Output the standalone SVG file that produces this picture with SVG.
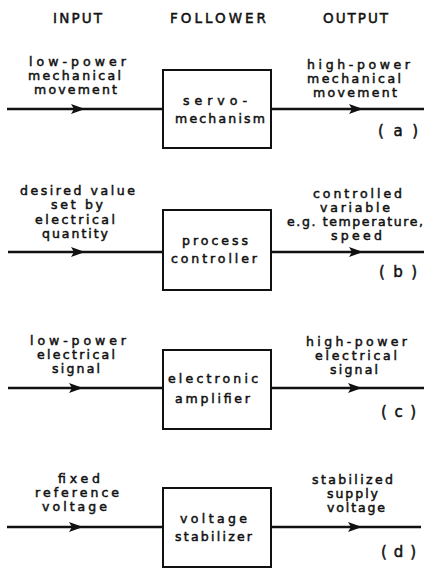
<svg xmlns="http://www.w3.org/2000/svg" width="424" height="569" viewBox="0 0 424 569">
<style>
text{font-family:"DejaVu Sans","Liberation Sans",sans-serif;font-size:12.5px;fill:#111;stroke:#111;stroke-width:0.5}
.hd{font-size:13.5px}
.tag{font-size:15px}
.box{fill:#fff;stroke:#111;stroke-width:2}
.con{fill:none;stroke:#111;stroke-width:2.4;marker-mid:url(#arr)}
</style>
<defs>
<marker id="arr" markerUnits="userSpaceOnUse" markerWidth="15" markerHeight="12" viewBox="0 0 15 12" refX="14" refY="6" orient="auto">
<path d="M0,1 L14,6 L0,11 L3,6 z" fill="#111"/>
</marker>
</defs>
<rect width="424" height="569" fill="#fff"/>

<g id="headers">
<text class="hd" x="53" y="23" textLength="49" lengthAdjust="spacing">INPUT</text>
<text class="hd" x="170" y="23" textLength="96" lengthAdjust="spacing">FOLLOWER</text>
<text class="hd" x="323" y="23" textLength="65" lengthAdjust="spacing">OUTPUT</text>
</g>

<g id="connectors">
<path class="con" d="M7,109 H85 H163"/>
<path class="con" d="M271,109 H363 H424"/>
<path class="con" d="M8,252 H85 H163"/>
<path class="con" d="M271,252 H363 H424"/>
<path class="con" d="M8,388 H83 H163"/>
<path class="con" d="M271,388 H362 H424"/>
<path class="con" d="M7,527 H83 H163"/>
<path class="con" d="M271,527 H362 H421"/>
</g>

<g id="in-a">
<text x="29" y="66" textLength="97" lengthAdjust="spacing">low-power</text>
<text x="28" y="80" textLength="93" lengthAdjust="spacing">mechanical</text>
<text x="34" y="94" textLength="83" lengthAdjust="spacing">movement</text>
</g>
<g id="node-a">
<rect class="box" x="163" y="70" width="108" height="78"/>
<text x="183" y="105" textLength="64" lengthAdjust="spacing">servo-</text>
<text x="175" y="123" textLength="90" lengthAdjust="spacing">mechanism</text>
</g>
<g id="out-a">
<text x="307" y="69" textLength="103" lengthAdjust="spacing">high-power</text>
<text x="307" y="83" textLength="94" lengthAdjust="spacing">mechanical</text>
<text x="313" y="97" textLength="84" lengthAdjust="spacing">movement</text>
<text class="tag" x="378" y="136" textLength="40" lengthAdjust="spacing">(a)</text>
</g>

<g id="in-b">
<text x="20" y="195" textLength="115" lengthAdjust="spacing">desired value</text>
<text x="51" y="209" textLength="52" lengthAdjust="spacing">set by</text>
<text x="35" y="224" textLength="80" lengthAdjust="spacing">electrical</text>
<text x="42" y="238" textLength="66" lengthAdjust="spacing">quantity</text>
</g>
<g id="node-b">
<rect class="box" x="163" y="210" width="108" height="80"/>
<text x="182" y="245" textLength="66" lengthAdjust="spacing">process</text>
<text x="171" y="263" textLength="86" lengthAdjust="spacing">controller</text>
</g>
<g id="out-b">
<text x="313" y="198" textLength="89" lengthAdjust="spacing">controlled</text>
<text x="320" y="212" textLength="70" lengthAdjust="spacing">variable</text>
<text x="287" y="226" textLength="136" lengthAdjust="spacing">e.g. temperature,</text>
<text x="331" y="240" textLength="51" lengthAdjust="spacing">speed</text>
<text class="tag" x="379" y="277" textLength="38" lengthAdjust="spacing">(b)</text>
</g>

<g id="in-c">
<text x="30" y="345" textLength="96" lengthAdjust="spacing">low-power</text>
<text x="37" y="359" textLength="78" lengthAdjust="spacing">electrical</text>
<text x="52" y="373" textLength="48" lengthAdjust="spacing">signal</text>
</g>
<g id="node-c">
<rect class="box" x="163" y="350" width="108" height="79"/>
<text x="168" y="383" textLength="90" lengthAdjust="spacing">electronic</text>
<text x="175" y="403" textLength="75" lengthAdjust="spacing">amplifier</text>
</g>
<g id="out-c">
<text x="306" y="346" textLength="101" lengthAdjust="spacing">high-power</text>
<text x="315" y="360" textLength="82" lengthAdjust="spacing">electrical</text>
<text x="330" y="374" textLength="48" lengthAdjust="spacing">signal</text>
<text class="tag" x="381" y="417" textLength="35" lengthAdjust="spacing">(c)</text>
</g>

<g id="in-d">
<text x="58" y="483" textLength="42" lengthAdjust="spacing">fixed</text>
<text x="35" y="497" textLength="84" lengthAdjust="spacing">reference</text>
<text x="42" y="511" textLength="65" lengthAdjust="spacing">voltage</text>
</g>
<g id="node-d">
<rect class="box" x="163" y="488" width="108" height="79"/>
<text x="180" y="523" textLength="67" lengthAdjust="spacing">voltage</text>
<text x="175" y="541" textLength="77" lengthAdjust="spacing">stabilizer</text>
</g>
<g id="out-d">
<text x="312" y="484" textLength="81" lengthAdjust="spacing">stabilized</text>
<text x="327" y="498" textLength="51" lengthAdjust="spacing">supply</text>
<text x="327" y="512" textLength="58" lengthAdjust="spacing">voltage</text>
<text class="tag" x="381" y="557" textLength="35" lengthAdjust="spacing">(d)</text>
</g>
</svg>
